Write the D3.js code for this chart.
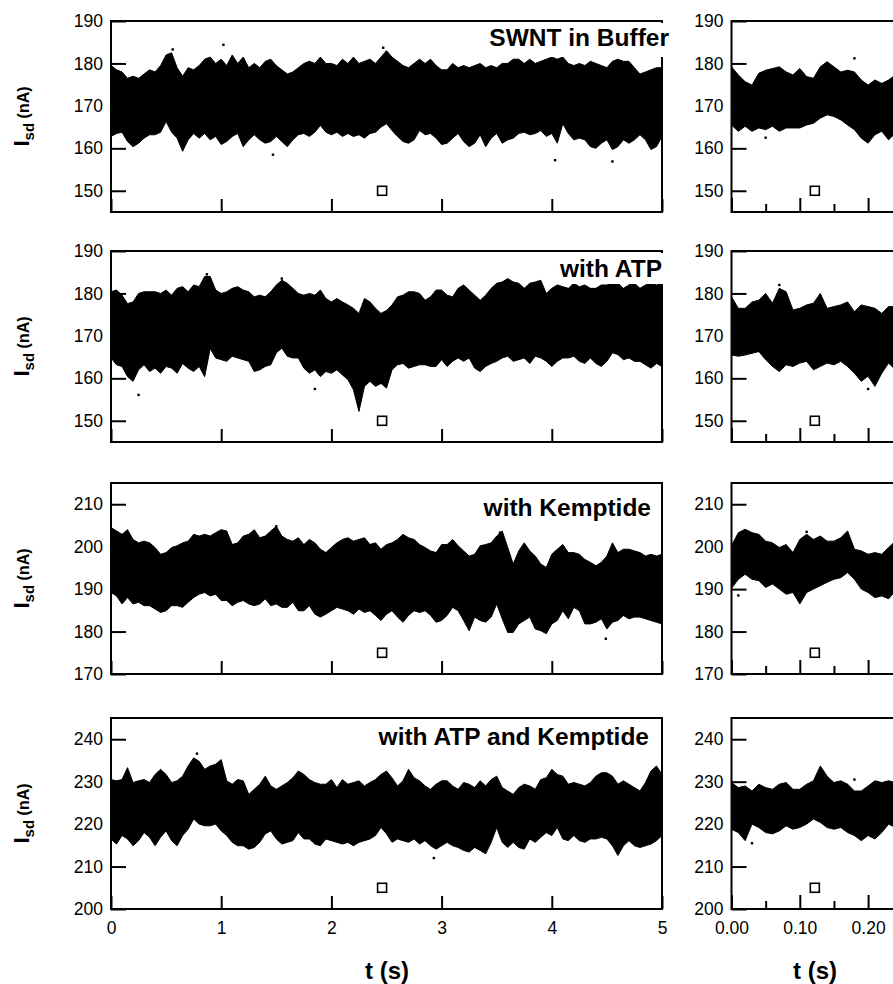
<!DOCTYPE html>
<html>
<head>
<meta charset="utf-8">
<script src="https://cdn.jsdelivr.net/npm/d3@7"></script>
<style>
  html, body { margin: 0; padding: 0; background: #fff; }
  svg { display: block; font-family: "Liberation Sans", Arial, sans-serif; }
  .tick text { font-size: 17.5px; fill: #000; }
  .tick line { stroke: #000; stroke-width: 2; }
</style>
</head>
<body>
<div id="chart"></div>
<script>
// panel titles and y ranges (nA)
const titles = ['SWNT in Buffer', 'with ATP', 'with Kemptide', 'with ATP and Kemptide'];
const yDomains = [[145, 190], [145, 190], [170, 215], [200, 245]];
const yTicks = [
  [150, 160, 170, 180, 190],
  [150, 160, 170, 180, 190],
  [170, 180, 190, 200, 210],
  [200, 210, 220, 230, 240]
];
const xTicksLong = [0, 1, 2, 3, 4, 5];
const xTicksZoom = [0, 0.1, 0.2];
const xMinorZoom = [0.05, 0.15, 0.25];

// envelope of the current trace, one value every 0.05 s (0..5 s)
const stepLong = 0.05;
const bufferHi = [
  179.5,178.5,178,176.5,177,176.5,177.5,178.5,178,179.5,
  182,182.5,179,177,179,178.5,179.5,181,181.5,180,
  181,179.5,182,180,181.5,179,180,179,180.5,181,
  179.5,178.5,177.5,178,179,180,180.5,180,181.5,180,
  180,179.5,181,180,181.5,180,180.5,181,180,181.5,
  183,181.5,180.5,179.5,179,180,181,180,181,179.5,
  178.5,178.5,180,179,179.5,179,179.5,180,179,179.5,
  179,180,180,181,181,180,181,180,180.5,181,
  181.5,181,181.5,180,179.5,180,179.5,180.5,180,179.5,
  179,180.5,181,180.5,180.5,179,177.5,178,178.5,179,
  179
];
const bufferLo = [
  162.8,163.5,163.8,161.6,160.4,161.2,162.4,163.2,163.2,163.8,
  166.3,163.8,162.4,159.3,162,163.5,162.4,163.5,162,162.8,
  160.9,161.6,162.8,163.5,160.4,162,163.2,162,161.2,161.6,
  162.8,161.6,160.4,162,163.2,163.5,162.8,163.8,165.4,163.8,
  163.2,163.8,162.8,163.5,162.8,163.2,162.4,163.5,163.8,165,
  165.8,164.2,162.8,161.6,161.2,162,164.2,163.2,163.5,162.4,
  160.9,161.2,162.4,163.5,161.6,160.4,161.2,163.2,160.4,162.4,
  163.5,161.2,162,162.4,163.5,163.8,163.2,163.5,164.2,162.8,
  163.5,161.2,165.8,163.5,162,162.4,162,160.4,160,161.2,
  162,159.7,160.4,162,161.2,162,163.2,162,159.7,160.4,
  162.8
];
const atpHi = [
  180.4,180.8,179.6,177.6,178,180,180.4,180.4,180.4,180,
  180.8,179.6,181.2,181.6,180.4,182,181.6,184,184,180.8,
  180,180.4,181.2,181.6,180.8,180.4,179.2,179.6,179.2,180.4,
  182,183.1,182.4,181.2,180,179.6,180,179.6,180.8,178.8,
  178,178.8,178,177.3,176.5,175.3,178.8,178,176.5,175.3,
  176,177.3,179.2,179.6,180.4,180.4,180,178.4,179.2,180.8,
  180.8,179.6,179.2,181.2,182,180.8,179.6,178.4,179.6,181.2,
  182.4,182.7,183.5,182.7,182.4,181.2,182.4,182.7,183.1,180,
  181.2,182,181.6,181.2,182.4,181.6,182,181.2,181.2,182,
  182,182.4,182.4,181.2,182,182.4,181.2,182,182.4,182,
  182.4
];
const atpLo = [
  164.8,163.2,162.8,160.4,159.3,162,163.2,161.6,162.4,161.2,
  162.8,162.4,161.2,163.5,162.4,161.6,162.8,160.4,167,164.8,
  164.4,164,165.2,164.8,164.4,164,161.6,162,162.8,163.2,
  166,167.1,165.2,164.8,164.8,162.4,161.2,162,160.4,161.6,
  161.2,162,160.8,159.7,157.3,152.2,158.1,159.3,158.1,158.8,
  157.7,162,163.2,163.5,162.4,162.8,163.2,163.2,162.8,162.8,
  164.4,162.8,164,164.8,164,164.8,162.4,161.6,162.8,163.5,
  164,164.8,165.2,164,164.4,164.8,163.5,165.2,164.8,164,
  162.8,164,164.8,164.8,165.2,164,163.5,164.8,163.5,162.8,
  164,166,165.6,164.4,164.8,164,164,163.2,162.4,163.5,
  162.8
];
const kemHi = [
  204.5,203.7,202.9,204,201.7,200.9,201.3,200.9,199.8,198.2,
  198.6,199.8,200.2,200.9,201.3,202.9,202.5,202.9,202.5,203.3,
  204,203.7,200.5,200.9,202.5,202.9,204,202.1,202.5,203.7,
  204.8,202.5,201.7,201.3,202.1,200.5,201.7,200.9,199.4,198.6,
  199.8,200.9,201.7,202.1,201.3,201.7,202.1,200.5,200.9,199.4,
  200.5,200.9,201.7,202.9,202.1,201.7,200.5,199.8,199,198.6,
  200.5,200.5,201.7,200.2,199,197.8,198.2,200.2,200.5,200.9,
  202.5,203.7,199.8,195.9,199,200.9,199,197.8,195.9,195.1,
  198.2,199.4,200.5,198.6,198.6,198.2,197,196.3,195.5,196.3,
  197.8,200.9,198.6,199.4,199.4,199,198.6,197.8,198.2,197.8,
  198.2
];
const kemLo = [
  189.2,188.4,186.5,188,186.5,186.9,186.1,186.1,185.3,184.5,
  184.9,186.1,186.1,185.7,186.9,188,188.8,189.2,188.4,188.8,
  187.3,187.3,186.1,186.9,187.3,186.5,186.1,186.5,187.7,186.1,
  186.5,185.7,185.7,186.9,184.9,184.9,186.1,184.1,183.4,184.1,
  184.9,185.7,185.3,184.9,184.1,185.3,184.5,184.9,183.8,182.6,
  184.1,184.9,183.4,182.2,183.8,184.9,184.5,184.9,183.8,182.2,
  182.6,183.8,185.7,184.9,182.6,180.2,183.4,182.6,182.2,183.4,
  186.5,183,179.8,179.8,181.8,182.6,183.4,180.6,180.2,179.5,
  181.8,182.6,184.9,183,185.7,184.9,181.8,181.8,182.2,183,
  180.6,182.2,182.6,183.8,183,183.4,183.4,183,182.6,182.2,
  181.8
];
const bothHi = [
  230.5,230.2,230.5,233.3,229.8,230.2,230.5,229.8,231.7,232.9,
  231.7,229.8,230.2,231.3,233.7,235.6,234.8,232.9,233.7,234.1,
  235.2,230.2,229.4,230.5,230.2,227,228.2,229.4,231.3,229,
  228.2,229,229.8,230.9,232.5,231.7,230.5,229.8,229.4,229.4,
  230.5,228.6,230.5,229.4,229.8,230.2,229,229.8,230.5,231.7,
  232.5,230.9,229,230.2,232.9,230.9,230.2,229,228.2,229.4,
  230.2,230.2,229,228.2,229.8,229.4,228.6,230.2,229,230.5,
  231.3,228.6,227.8,227,228.6,229.4,229,228.2,230.5,230.9,
  232.9,231.7,231.3,229.4,229.8,229.4,229,229.8,231.3,232.1,
  232.1,231.3,229.4,230.2,229.4,228.6,227.8,229.8,232.5,233.7,
  231.7
];
const bothLo = [
  216.5,215.3,217.3,216.5,214.9,216.1,218,216.9,214.9,216.9,
  218.4,216.1,214.9,217.3,218.8,221.2,220,219.6,219.6,220,
  218.4,217.3,215.7,214.9,214.9,214.1,214.5,215.7,217.7,218.4,
  216.5,215.3,215.7,216.1,218,216.5,216.5,215.3,214.9,216.5,
  216.1,215.7,215.3,215.7,214.9,215.7,216.1,216.5,217.3,219.2,
  217.7,215.7,216.5,216.1,215.7,216.5,215.3,216.1,214.9,214.1,
  214.9,215.7,214.9,214.5,213.8,213.4,214.5,213.8,213,215.7,
  219.2,215.7,214.5,215.7,214.5,214.1,216.5,215.7,216.9,218,
  217.3,219.2,216.5,216.1,217.3,216.1,215.7,216.5,216.5,216.9,
  216.5,214.9,212.6,214.9,216.1,214.9,214.5,214.9,215.3,216.1,
  217.3
];

// expanded traces (right column), one value every 0.01 s (0..0.24 s visible)
const stepZoom = 0.01;
const bufferZoomHi = [179.2,177.3,175.7,174.9,177.7,178.4,178.8,179.2,178,177.3,178.8,176.9,176.5,179.2,180.4,179.2,178,178.4,178,176.1,174.9,176.1,175.3,176.1,177.3];
const bufferZoomLo = [165.5,164,165.2,164,164.8,164.4,165.2,164,164.8,164.8,164.8,165.5,165.9,167.1,167.9,167.5,166.7,165.5,164.4,162.4,161.2,163.2,164,162,163.6];
const atpZoomHi = [179.2,176.5,176.5,178,178.4,180,177.7,181.2,180.4,176.1,176.5,177.3,177.7,180,176.5,176.9,177.3,178,175.7,177.3,176.9,176.5,175.3,176.9,176.9];
const atpZoomLo = [165.5,165.2,165.5,165.9,166.3,164.4,162.8,161.6,163.2,162.8,163.6,164,162,162.8,163.6,163.2,164,162.8,161.2,159.3,160.5,158.1,161.2,163.6,162];
const kemZoomHi = [200.2,203.3,204.1,203.3,202.9,201.3,200.9,199.8,200.5,198.6,201.7,202.9,201.7,202.5,201.3,201.3,202.1,203.7,199.4,199,198.2,198.6,198.2,199.8,201.3];
const kemZoomLo = [190.2,192.3,193.5,192.3,192,190.4,191.2,190,188.8,189.2,186.5,189.2,190,190.8,191.6,192.3,192.7,193.9,192.3,190,189.2,188,188.4,187.7,189.6];
const bothZoomHi = [229.8,228.6,229,227.8,229.4,228.6,228.2,229.4,229.8,228.2,228.2,229.4,230.2,233.7,231.3,229.8,230.2,229.4,227.8,227.8,229,230.2,229.8,230.2,229.8];
const bothZoomLo = [218.8,218,216.1,220,219.2,218,217.7,218.4,219.6,218.8,219.2,220,221.2,220.4,219.2,218.8,219.2,218,217.3,216.1,217.3,216.5,218,220,219.2];

// isolated points outside the dense band [t, nA]
const bufferDots = [[0.56, 183.3], [1.02, 184.4], [1.47, 158.5], [2.47, 183.7], [4.03, 157.2], [4.55, 156.9]];
const atpDots = [[0.25, 156.1], [0.87, 184.5], [1.55, 183.5], [1.85, 157.5]];
const kemDots = [[1.5, 204.8], [3.53, 203.3], [4.49, 178.3]];
const bothDots = [[0.78, 236.6], [2.93, 212]];
const bufferZoomDots = [[0.05, 162.5], [0.18, 181.2]];
const atpZoomDots = [[0.07, 182], [0.2, 157.5]];
const kemZoomDots = [[0.01, 188.5], [0.11, 203.5]];
const bothZoomDots = [[0.03, 215.5], [0.18, 230.5]];

// open square markers
const markerLongT = 2.46;
const markerZoomT = 0.122;
const markerValues = [150, 150, 175, 205];

const longHi = [bufferHi, atpHi, kemHi, bothHi];
const longLo = [bufferLo, atpLo, kemLo, bothLo];
const zoomHi = [bufferZoomHi, atpZoomHi, kemZoomHi, bothZoomHi];
const zoomLo = [bufferZoomLo, atpZoomLo, kemZoomLo, bothZoomLo];
const longDots = [bufferDots, atpDots, kemDots, bothDots];
const zoomDots = [bufferZoomDots, atpZoomDots, kemZoomDots, bothZoomDots];

// layout
const width = 893, height = 984;
const panelTops = [21, 251, 483, 718];
const panelH = 191;
const leftX = [111, 662];
const rightX = [731.5, 731.5 + 683 * 0.3];
const titleLayout = [
  { x: 669, dy: 25, cover: 34 },
  { x: 662, dy: 26, cover: 31 },
  { x: 651, dy: 33, cover: 0 },
  { x: 649, dy: 27, cover: 0 }
];

const svg = d3.select('#chart').append('svg')
  .attr('width', width)
  .attr('height', height);

svg.append('rect').attr('width', width).attr('height', height).attr('fill', '#fff');

const xLong = d3.scaleLinear().domain([0, 5]).range(leftX);
const xZoom = d3.scaleLinear().domain([0, 0.3]).range(rightX);

const drawPanel = (row, col) => {
  const top = panelTops[row];
  const isLong = col === 0;
  const x = isLong ? xLong : xZoom;
  const y = d3.scaleLinear().domain(yDomains[row]).range([top + panelH, top]);
  const hi = isLong ? longHi[row] : zoomHi[row];
  const lo = isLong ? longLo[row] : zoomLo[row];
  const dt = isLong ? stepLong : stepZoom;
  const [x0, x1] = x.range();
  const g = svg.append('g');

  const clipId = `clip-${row}-${col}`;
  svg.append('clipPath').attr('id', clipId)
    .append('rect')
    .attr('x', x0).attr('y', top)
    .attr('width', x1 - x0).attr('height', panelH);

  const band = hi.map((v, i) => ({ t: i * dt, hi: v, lo: lo[i] }));
  const area = d3.area()
    .x((d) => x(d.t))
    .y0((d) => y(d.lo))
    .y1((d) => y(d.hi));

  const data = g.append('g').attr('clip-path', `url(#${clipId})`);
  data.append('path')
    .datum(band)
    .attr('d', area)
    .attr('fill', '#000')
    .attr('stroke', '#000')
    .attr('stroke-width', 1)
    .attr('stroke-linejoin', 'miter');

  data.selectAll('rect.dot')
    .data(isLong ? longDots[row] : zoomDots[row])
    .enter()
    .append('rect')
    .attr('class', 'dot')
    .attr('x', (d) => x(d[0]) - 1.2)
    .attr('y', (d) => y(d[1]) - 1.2)
    .attr('width', 2.4)
    .attr('height', 2.4)
    .attr('fill', '#000');

  // y axis, ticks pointing inward
  g.append('g')
    .attr('transform', `translate(${x0},0)`)
    .call(d3.axisLeft(y).tickValues(yTicks[row]).tickSize(-15).tickPadding(8).tickFormat(d3.format('d')))
    .call((a) => a.select('.domain').remove());

  // x axis
  const isBottom = row === panelTops.length - 1;
  if (isLong) {
    g.append('g')
      .attr('transform', `translate(0,${top + panelH})`)
      .call(d3.axisBottom(x).tickValues(xTicksLong).tickSize(-13).tickPadding(13)
        .tickFormat(isBottom ? d3.format('d') : () => ''))
      .call((a) => a.select('.domain').remove());
  } else {
    g.append('g')
      .attr('transform', `translate(0,${top + panelH})`)
      .call(d3.axisBottom(x).tickValues(xTicksZoom).tickSize(-14).tickPadding(13)
        .tickFormat(isBottom ? d3.format('.2f') : () => ''))
      .call((a) => a.select('.domain').remove());
    g.append('g')
      .attr('transform', `translate(0,${top + panelH})`)
      .call(d3.axisBottom(x).tickValues(xMinorZoom).tickSize(-8).tickFormat(() => ''))
      .call((a) => a.select('.domain').remove());
  }

  // frame
  g.append('rect')
    .attr('x', x0).attr('y', top)
    .attr('width', x1 - x0).attr('height', panelH)
    .attr('fill', 'none')
    .attr('stroke', '#000')
    .attr('stroke-width', 2);

  // square marker
  const mt = isLong ? markerLongT : markerZoomT;
  g.append('rect')
    .attr('x', x(mt) - 4.5)
    .attr('y', y(markerValues[row]) - 4.5)
    .attr('width', 9)
    .attr('height', 9)
    .attr('fill', '#fff')
    .attr('stroke', '#000')
    .attr('stroke-width', 1.6);

  if (isLong) {
    const tl = titleLayout[row];
    const cover = g.append('rect').attr('fill', '#fff');
    const label = g.append('text')
      .attr('x', tl.x)
      .attr('y', top + tl.dy)
      .attr('text-anchor', 'end')
      .attr('font-size', 24.5)
      .attr('font-weight', 'bold')
      .text(titles[row]);
    if (tl.cover) {
      const w = label.node().getComputedTextLength();
      cover.attr('x', tl.x - w - 4).attr('y', top + 2)
        .attr('width', w + 8).attr('height', tl.cover);
    } else {
      cover.remove();
    }

    // y label: I_sd (nA)
    const yl = g.append('text')
      .attr('transform', `translate(28.5,${top + panelH / 2}) rotate(-90)`)
      .attr('text-anchor', 'middle')
      .attr('font-weight', 'bold');
    yl.append('tspan').attr('font-size', 22).text('I');
    yl.append('tspan').attr('font-size', 15).attr('dy', 5).text('sd');
    yl.append('tspan').attr('font-size', 16).attr('dy', -5).text(' (nA)');
  }
};

for (let row = 0; row < 4; row++) {
  drawPanel(row, 0);
  drawPanel(row, 1);
}

// x axis titles
[387, 815].forEach((cx) => {
  svg.append('text')
    .attr('x', cx)
    .attr('y', 979)
    .attr('text-anchor', 'middle')
    .attr('font-size', 24)
    .attr('font-weight', 'bold')
    .text('t (s)');
});
</script>
</body>
</html>
